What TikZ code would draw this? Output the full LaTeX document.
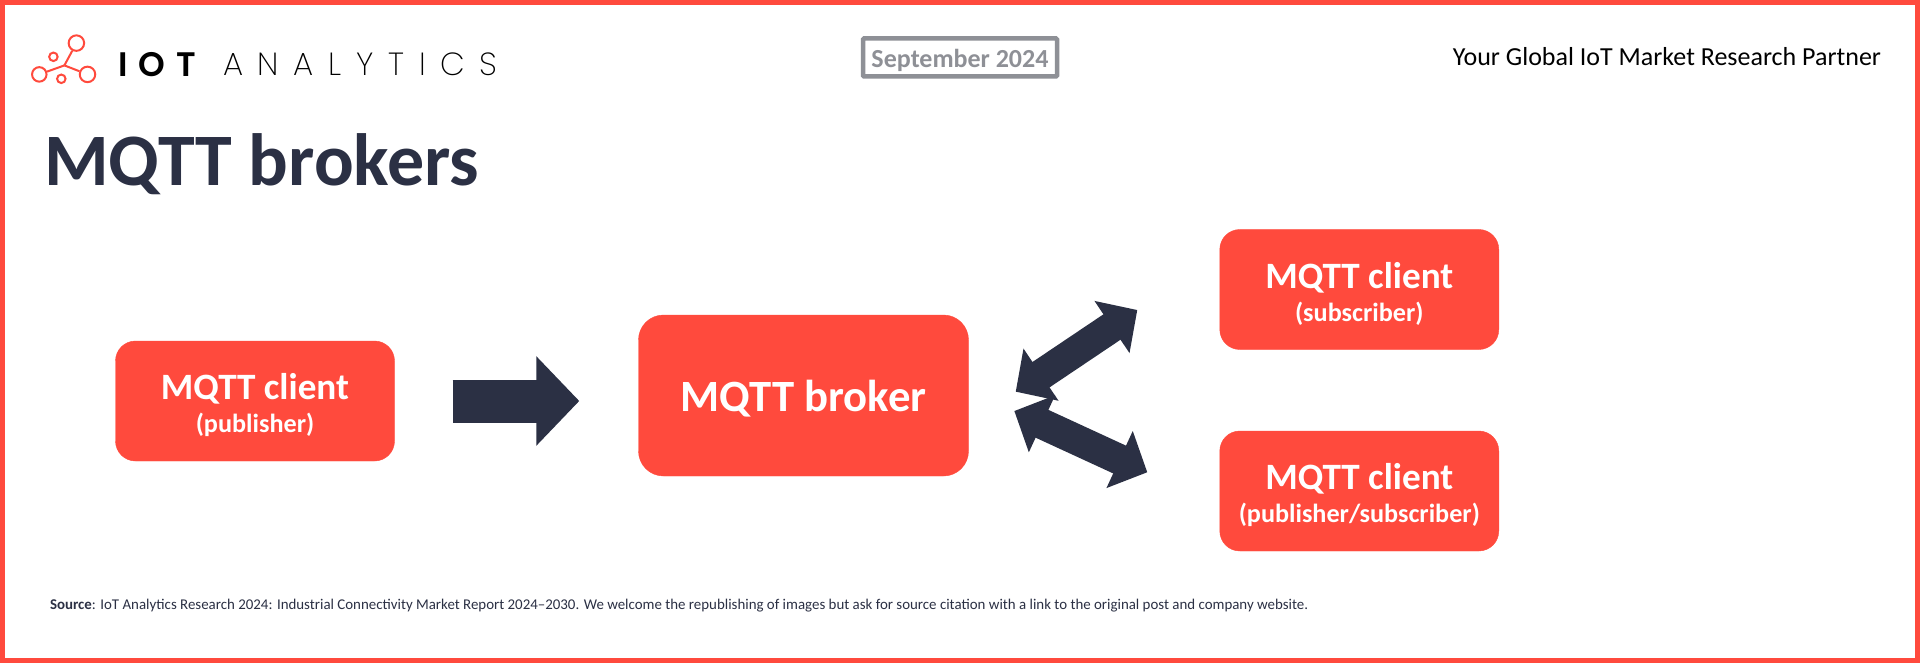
\documentclass[tikz,border=0pt]{standalone}
\usepackage{fontspec}
\setmainfont{Carlito}
\newfontfamily\logobold{Poppins}[UprightFont={* SemiBold}]
\newfontfamily\logothin{Poppins}[UprightFont={* ExtraLight},LetterSpace=46]
\usetikzlibrary{arrows.meta,calc}
\definecolor{ioRed}{HTML}{FF4A3D}
\definecolor{ioDark}{HTML}{2B3044}
\definecolor{ioGrey}{HTML}{8E9096}
\tikzset{
  clientbox/.style={draw=ioRed,fill=ioRed,rounded corners=20pt,minimum width=279pt,minimum height=120pt,
    inner sep=0pt,align=center,text=white,font=\fontsize{37.2}{33}\selectfont\bfseries},
  brokerbox/.style={clientbox,rounded corners=25pt,minimum width=330pt,minimum height=161pt,font=\fontsize{44.7}{44}\selectfont\bfseries},
  blockone/.style={line width=43pt,draw=ioDark,-{Triangle[length=43pt,width=87pt]}},
  blocktwo/.style={line width=30.6pt,draw=ioDark,{Triangle[length=30.5pt,width=61pt]}-{Triangle[length=30.5pt,width=61pt]}},
  logoline/.style={draw=ioRed,line width=2pt},
  logodot/.style={circle,draw=ioRed,line width=2pt,fill=white,inner sep=0pt},
  plain/.style={inner sep=0pt,outer sep=0pt}
}
\newcommand{\subline}[1]{{\fontsize{26.2}{33}\selectfont #1}}
\begin{document}
\begin{tikzpicture}[x=1pt,y=-1pt]
\useasboundingbox (0,0) rectangle (1920,663);
\fill[white] (0,0) rectangle (1920,663);
\draw[ioRed,line width=5pt] (2.5,2.5) rectangle (1917.5,660.5);
% logo
\coordinate (hub) at (64.4,65.4);
\node[logodot,minimum size=15.5pt] (ltop) at (76.4,43.1) {};
\node[logodot,minimum size=14.5pt] (lleft) at (39.3,74.4) {};
\node[logodot,minimum size=15.5pt] (lright) at (87.5,74.4) {};
\node[logodot,minimum size=8.5pt] (lsa) at (53.4,56.8) {};
\node[logodot,minimum size=8.5pt] (lsb) at (61.3,78.8) {};
\draw[logoline] (hub) -- (ltop);
\draw[logoline] (hub) -- (lleft);
\draw[logoline] (hub) -- (lright);
\node[plain,anchor=base west,text=black] (iot) at (118,76.5) {\fontsize{34}{34}\logobold I\kern11pt O\kern11pt T};
\node[plain,anchor=base west,text=black] (ana) at (223,75.5) {\fontsize{32}{32}\logothin ANALYTICS};
% header
\node[draw=ioGrey,line width=4.5pt,rounded corners=1pt,minimum width=194pt,minimum height=38pt,inner sep=0pt,text=ioGrey] (date) at (960,57.5)
  {\fontsize{26}{26}\selectfont\bfseries\rule{0pt}{24pt}September 2024};
\node[plain,anchor=base east,text=black] (tag) at (1881,66) {\fontsize{26}{26}\selectfont Your Global IoT Market Research Partner};
\node[plain,anchor=base west,text=ioDark] (title) at (44,186) {\fontsize{74}{74}\selectfont\bfseries MQTT brokers};
% boxes
\node[clientbox] (pub) at (255,401) {\rule{0pt}{35pt}MQTT client\\\subline{(publisher)}};
\node[brokerbox] (broker) at (803.5,395.5) {\rule{0pt}{38pt}MQTT broker};
\node[clientbox] (sub) at (1359.3,289.5) {\rule{0pt}{35pt}MQTT client\\\subline{(subscriber)}};
\node[clientbox] (ps) at (1359.3,491) {\rule{0pt}{35pt}MQTT client\\\subline{(publisher/subscriber)}};
% arrows
\coordinate (pubout) at ($(pub.east)+(58,0)$);
\coordinate (brokin) at ($(broker.west)+(-59,5.5)$);
\draw[blockone] (pubout) -- (brokin);
\coordinate (bu) at (1015.7,391.7);
\coordinate (su) at (1137.3,310);
\coordinate (bd) at (1014.3,411);
\coordinate (sd) at (1147.3,472.3);
\draw[blocktwo] (bu) -- (su);
\draw[blocktwo] (bd) -- (sd);
% source
\node[plain,anchor=base west,text=ioDark] (src) at (50,609) {\fontsize{14.9}{14.9}\selectfont\textbf{Source}: IoT Analytics Research 2024: Industrial Connectivity Market Report 2024--2030. We welcome the republishing of images but ask for source citation with a link to the original post and company website.};
\end{tikzpicture}
\end{document}
